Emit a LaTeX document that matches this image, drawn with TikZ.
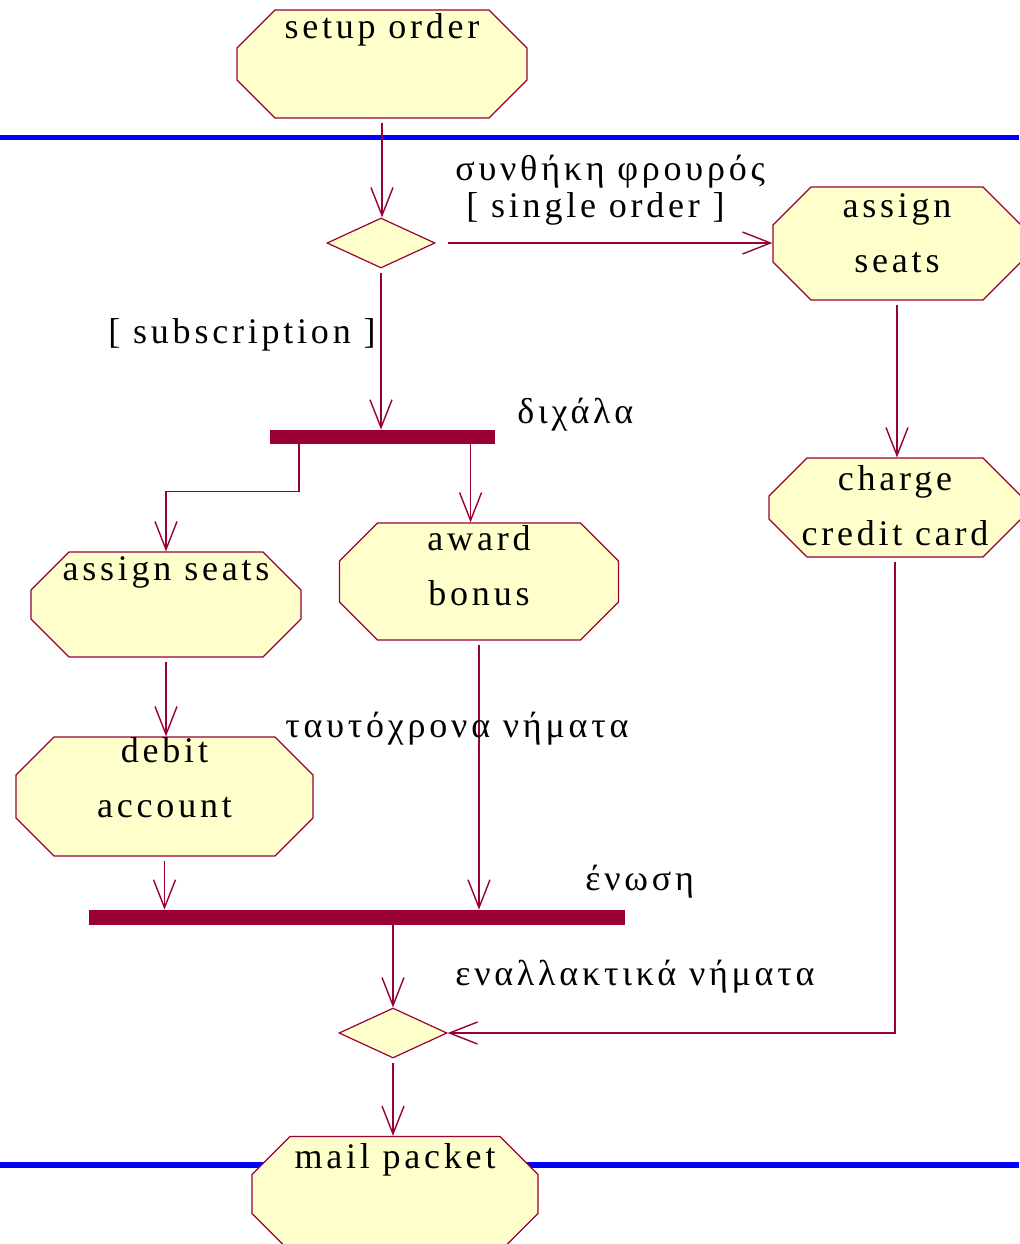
\documentclass[tikz,border=0pt]{standalone}
\usepackage{fontspec}
\setmainfont{Liberation Serif}[LetterSpace=10.5]
\usetikzlibrary{arrows.meta, shapes.misc, shapes.geometric, calc}
\definecolor{granate}{RGB}{153, 0, 51}
\definecolor{marfil}{RGB}{255, 255, 204}
\definecolor{azul}{RGB}{0, 0, 255}
\tikzset{
    act/.style={chamfered rectangle, chamfered rectangle xsep=19pt, fill=marfil, draw=granate, line width=0.6pt, inner sep=0pt, text height=12pt},
    dec/.style={diamond, fill=marfil, draw=granate, line width=0.6pt, inner sep=0pt, minimum width=54pt, minimum height=25pt},
    bar/.style={rectangle, fill=granate, inner sep=0pt},
    conn/.style={-{Straight Barb[length=14pt, width=11pt]}, granate, line width=0.7pt, shorten <=2pt},
    lane/.style={azul, line width=2.7pt},
    lbl/.style={anchor=base west, inner sep=0pt},
}
\newcommand{\uno}[1]{\makebox[0pt]{#1}}
\newcommand{\dos}[2]{\makebox[0pt]{\begin{tabular}[t]{@{}c@{}}#1\\#2\end{tabular}}}

\begin{document}
\begin{tikzpicture}[x=0.5pt, y=-0.5pt, font=\fontsize{18}{27.5}\selectfont]
    \useasboundingbox (0,0) rectangle (1019,1244);

    % swimlanes
    \draw[lane] (0,137.5) -- (1019,137.5);
    \draw[lane] (0,1165) -- (1019,1165);

    \node[act, minimum width=145pt, minimum height=54pt, text depth=38pt] (setup) at (382,64) {\uno{setup order}};
    \node[dec] (dec1) at (381,243) {};
    \node[act, minimum width=124pt, minimum height=56.5pt, text depth=38.5pt] (asgR) at (897,243.5) {\dos{assign}{seats}};
    \node[act, minimum width=126pt, minimum height=49.5pt, text depth=29.5pt] (charge) at (895,507.5) {\dos{charge}{credit card}};
    \node[bar, minimum width=112.5pt, minimum height=7pt] (fork) at (382.5,437) {};
    \node[act, minimum width=135pt, minimum height=52.5pt, text depth=36.5pt] (asgL) at (166,604.5) {\uno{assign seats}};
    \node[act, minimum width=139.5pt, minimum height=58.5pt, text depth=43.5pt] (award) at (479,581.5) {\dos{award}{bonus}};
    \node[act, minimum width=148.5pt, minimum height=59.5pt, text depth=46.5pt] (debit) at (164.5,796.5) {\dos{debit}{account}};
    \node[bar, minimum width=268pt, minimum height=7.5pt] (join) at (357,917.5) {};
    \node[dec] (dec2) at (393,1033) {};
    \node[act, minimum width=143pt, minimum height=57.5pt, text depth=38pt] (mail) at (395,1194) {\uno{mail packet}};

    \coordinate (fkL) at ($(fork.south west)!0.13!(fork.south east)$);
    \coordinate (fkR) at ($(fork.south west)!0.89!(fork.south east)$);

    \draw[conn] (setup.south) -- (setup.south |- dec1.north);
    \draw[conn, shorten <=6pt] (dec1.east) -- (dec1.east -| asgR.west);
    \draw[conn] (asgR.south) -- (asgR.south |- charge.north);
    \draw[conn] (charge.south) |- (dec2.east);
    \draw[conn] (dec1.south) -- (dec1.south |- fork.north);
    \draw[conn, shorten <=0pt] (fkL) -- ++(0,47) -| (asgL.north);
    \draw[conn, shorten <=0pt] (fkR) -- (fkR |- award.north);
    \draw[conn] (asgL.south) -- (asgL.south |- debit.north);
    \draw[conn] (debit.south) -- (debit.south |- join.north);
    \draw[conn] (award.south) -- (award.south |- join.north);
    \draw[conn, shorten <=0pt] (dec2.north |- join.south) -- (dec2.north);
    \draw[conn] (dec2.south) -- (dec2.south |- mail.north);

    \node[lbl] (grd) at (455,180) {συνθήκη φρουρός};
    \node[lbl] (single) at (466,217) {[ single order ]};
    \node[lbl] (subs) at (108,343) {[ subscription ]};
    \node[lbl] (forkt) at (517,423) {διχάλα};
    \node[lbl] (conc) at (285,737) {ταυτόχρονα νήματα};
    \node[lbl] (joint) at (585,890) {ένωση};
    \node[lbl] (alt) at (455,985) {εναλλακτικά νήματα};
\end{tikzpicture}
\end{document}
